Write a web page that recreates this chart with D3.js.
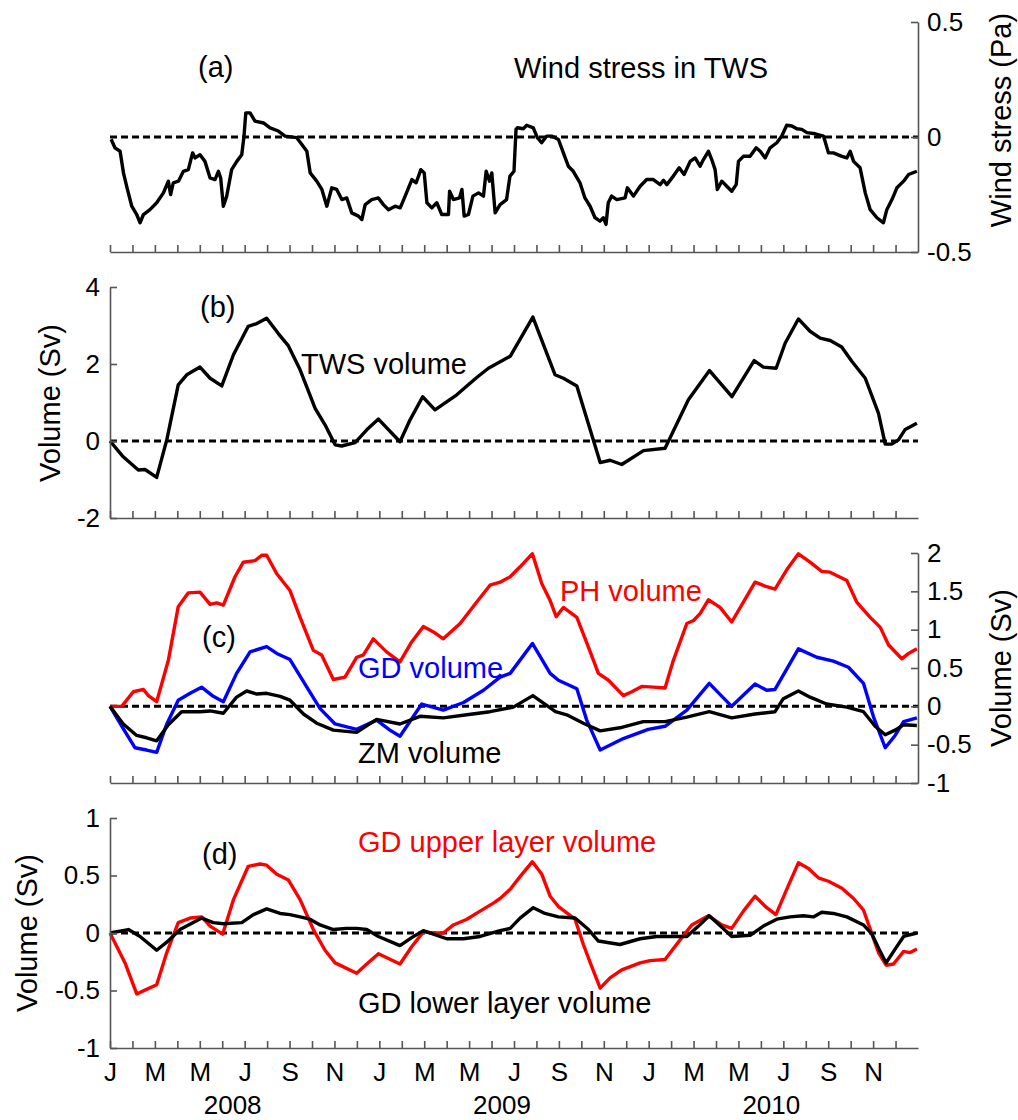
<!DOCTYPE html>
<html>
<head>
<meta charset="utf-8">
<script src="https://cdn.jsdelivr.net/npm/d3@7"></script>
<style>
  body { margin: 0; background: #fff; }
  text { font-family: "Liberation Sans", Arial, sans-serif; }
</style>
</head>
<body>
<svg id="chart" width="1018" height="1120"></svg>
<script>
// time is in months since Jan 2008
const monthLetters = ['J','F','M','A','M','J','J','A','S','O','N','D'];
const years = ['2008', '2009', '2010'];

const windStress = [[0.05,-0.01],[0.22,-0.047],[0.45,-0.062],[0.6,-0.156],[0.74,-0.214],[0.97,-0.301],[1.19,-0.337],[1.34,-0.373],[1.49,-0.337],[1.78,-0.316],[2.08,-0.286],[2.38,-0.243],[2.6,-0.192],[2.7,-0.25],[2.82,-0.199],[3.05,-0.192],[3.27,-0.149],[3.49,-0.142],[3.68,-0.069],[3.79,-0.091],[4.01,-0.077],[4.23,-0.106],[4.46,-0.178],[4.68,-0.185],[4.83,-0.149],[4.93,-0.178],[5.05,-0.301],[5.2,-0.257],[5.42,-0.142],[5.65,-0.106],[5.87,-0.077],[5.97,0.004],[6.05,0.105],[6.24,0.105],[6.46,0.069],[6.84,0.061],[7.13,0.04],[7.5,0.026],[7.8,0.004],[8.32,-0.003],[8.54,-0.032],[8.77,-0.062],[8.92,-0.156],[9.21,-0.192],[9.44,-0.228],[9.66,-0.301],[9.88,-0.221],[10.1,-0.228],[10.33,-0.272],[10.55,-0.265],[10.77,-0.33],[11.07,-0.344],[11.22,-0.359],[11.37,-0.294],[11.66,-0.272],[11.96,-0.265],[12.18,-0.294],[12.41,-0.316],[12.7,-0.301],[12.93,-0.308],[13.15,-0.257],[13.45,-0.185],[13.64,-0.199],[13.85,-0.142],[14.0,-0.156],[14.12,-0.286],[14.34,-0.308],[14.56,-0.286],[14.78,-0.337],[15.08,-0.337],[15.13,-0.236],[15.3,-0.272],[15.57,-0.265],[15.68,-0.228],[15.78,-0.344],[15.97,-0.337],[16.17,-0.257],[16.42,-0.243],[16.64,-0.257],[16.76,-0.149],[16.91,-0.192],[17.01,-0.156],[17.16,-0.33],[17.38,-0.294],[17.67,-0.272],[17.82,-0.17],[18.0,-0.149],[18.09,0.033],[18.15,0.04],[18.42,0.036],[18.56,0.051],[18.86,0.04],[19.04,-0.003],[19.23,-0.025],[19.46,0.004],[19.68,0.004],[19.98,-0.011],[20.2,-0.069],[20.42,-0.127],[20.64,-0.149],[20.94,-0.199],[21.16,-0.265],[21.39,-0.301],[21.61,-0.351],[21.83,-0.366],[21.98,-0.351],[22.1,-0.38],[22.2,-0.286],[22.35,-0.257],[22.58,-0.272],[22.95,-0.265],[23.05,-0.221],[23.32,-0.257],[23.62,-0.214],[23.91,-0.185],[24.21,-0.185],[24.51,-0.207],[24.66,-0.188],[24.81,-0.207],[25.1,-0.17],[25.36,-0.134],[25.58,-0.163],[25.85,-0.106],[26.07,-0.091],[26.29,-0.127],[26.44,-0.098],[26.66,-0.062],[26.81,-0.098],[26.96,-0.142],[27.06,-0.228],[27.26,-0.192],[27.48,-0.214],[27.7,-0.236],[27.9,-0.207],[28.0,-0.106],[28.22,-0.084],[28.52,-0.084],[28.79,-0.047],[28.97,-0.062],[29.19,-0.091],[29.41,-0.047],[29.71,-0.025],[29.93,0.004],[30.15,0.051],[30.38,0.048],[30.6,0.036],[30.82,0.033],[31.05,0.019],[31.42,0.014],[31.79,0.004],[32.01,-0.069],[32.23,-0.069],[32.61,-0.084],[32.83,-0.091],[32.98,-0.062],[33.13,-0.106],[33.42,-0.134],[33.65,-0.243],[33.87,-0.316],[34.17,-0.351],[34.46,-0.373],[34.61,-0.316],[34.84,-0.272],[35.06,-0.221],[35.36,-0.192],[35.58,-0.163],[35.95,-0.149]];

const twsVolume = [[0,0],[0.59,-0.41],[1.26,-0.755],[1.56,-0.74],[2.08,-0.946],[2.53,0.03],[3.04,1.46],[3.42,1.72],[4.01,1.92],[4.46,1.63],[4.98,1.43],[5.5,2.24],[6.16,2.98],[6.54,3.05],[6.98,3.19],[7.5,2.79],[7.95,2.47],[8.47,1.85],[9.14,0.85],[9.58,0.42],[10.03,-0.1],[10.32,-0.13],[10.92,-0.04],[11.44,0.29],[11.96,0.57],[12.92,-0.02],[13.37,0.55],[13.93,1.15],[14.48,0.81],[15.45,1.2],[16.34,1.65],[16.86,1.89],[17.83,2.2],[18.84,3.22],[19.83,1.72],[20.2,1.63],[20.8,1.43],[21.84,-0.56],[22.28,-0.5],[22.8,-0.61],[23.77,-0.25],[24.73,-0.19],[25.77,1.07],[26.71,1.83],[27.71,1.15],[28.7,2.09],[29.11,1.92],[29.68,1.89],[30.08,2.54],[30.67,3.17],[31.19,2.85],[31.64,2.67],[32.09,2.61],[32.6,2.44],[33.05,2.07],[33.65,1.63],[34.24,0.72],[34.54,-0.08],[34.83,-0.08],[35.13,0.03],[35.43,0.3],[35.95,0.46]];

const phVolume = [[0,0],[0.52,0],[1.04,0.19],[1.49,0.22],[1.71,0.14],[2.08,0.06],[2.6,0.6],[3.04,1.3],[3.49,1.48],[4.01,1.49],[4.46,1.33],[4.75,1.35],[5.05,1.32],[5.57,1.69],[5.94,1.88],[6.46,1.9],[6.76,1.97],[6.98,1.97],[7.43,1.73],[8.02,1.51],[8.47,1.16],[9.06,0.73],[9.43,0.67],[9.95,0.35],[10.47,0.38],[10.99,0.64],[11.29,0.67],[11.73,0.88],[12.32,0.71],[12.92,0.58],[13.44,0.84],[13.96,1.04],[14.41,0.97],[14.85,0.88],[15.6,1.08],[16.34,1.36],[16.93,1.58],[17.38,1.62],[17.83,1.69],[18.27,1.82],[18.82,1.99],[19.24,1.6],[19.61,1.38],[19.88,1.17],[20.2,1.29],[20.8,1.16],[21.32,0.77],[21.76,0.43],[22.21,0.34],[22.87,0.14],[23.25,0.19],[23.69,0.26],[24.21,0.25],[24.73,0.24],[25.1,0.6],[25.7,1.08],[26.0,1.12],[26.29,1.21],[26.66,1.39],[27.18,1.29],[27.7,1.1],[28.22,1.36],[28.74,1.62],[29.26,1.56],[29.63,1.53],[30.15,1.78],[30.67,1.99],[31.19,1.88],[31.71,1.76],[32.08,1.75],[32.83,1.64],[33.27,1.36],[33.87,1.16],[34.32,1.03],[34.69,0.8],[35.28,0.62],[35.58,0.69],[35.95,0.75]];

const gdVolume = [[0,0],[0.59,-0.29],[1.11,-0.54],[1.63,-0.57],[2.08,-0.6],[2.53,-0.23],[3.04,0.08],[3.57,0.17],[4.08,0.25],[4.6,0.13],[5.05,0.06],[5.64,0.43],[6.24,0.71],[6.98,0.78],[7.43,0.69],[8.02,0.61],[8.77,0.25],[9.36,-0.03],[10.03,-0.23],[10.99,-0.3],[11.88,-0.18],[12.47,-0.31],[12.92,-0.39],[13.89,0.03],[14.85,-0.05],[15.75,0.05],[16.64,0.21],[17.38,0.38],[17.83,0.43],[18.82,0.82],[19.61,0.43],[19.98,0.34],[20.8,0.23],[21.24,-0.18],[21.84,-0.57],[22.87,-0.42],[23.98,-0.3],[24.73,-0.26],[25.7,-0.05],[26.7,0.3],[27.7,0],[28.74,0.29],[29.26,0.21],[29.63,0.22],[30.67,0.75],[31.49,0.64],[32.23,0.59],[32.9,0.51],[33.57,0.3],[34.02,-0.14],[34.54,-0.54],[34.98,-0.38],[35.36,-0.2],[35.95,-0.15]];

const zmVolume = [[0,0],[0.59,-0.23],[1.19,-0.38],[1.63,-0.41],[2.08,-0.45],[2.6,-0.24],[3.19,-0.07],[4.01,-0.07],[4.46,-0.06],[5.05,-0.09],[5.64,0.12],[6.09,0.2],[6.54,0.16],[6.98,0.17],[7.58,0.13],[8.02,0.08],[8.62,-0.1],[9.21,-0.22],[9.95,-0.31],[10.99,-0.34],[11.88,-0.17],[12.92,-0.23],[13.81,-0.13],[14.85,-0.15],[15.9,-0.11],[16.93,-0.07],[17.97,-0.01],[18.84,0.14],[19.85,-0.07],[20.35,-0.11],[21.09,-0.22],[21.84,-0.32],[22.72,-0.28],[23.76,-0.2],[24.73,-0.2],[25.7,-0.14],[26.7,-0.07],[27.7,-0.15],[28.74,-0.1],[29.63,-0.07],[30.0,0.1],[30.67,0.2],[31.19,0.12],[31.93,0.03],[32.83,-0.01],[33.57,-0.07],[34.09,-0.26],[34.54,-0.37],[34.98,-0.31],[35.36,-0.24],[35.95,-0.25]];

const gdUpper = [[0,0],[0.67,-0.26],[1.19,-0.53],[1.63,-0.49],[2.08,-0.45],[2.53,-0.17],[3.04,0.09],[3.57,0.13],[4.09,0.14],[4.46,0.06],[5.02,-0.01],[5.5,0.29],[6.16,0.58],[6.68,0.6],[6.98,0.59],[7.43,0.51],[7.95,0.46],[8.47,0.29],[9.06,0.03],[9.58,-0.15],[10.03,-0.26],[10.99,-0.35],[11.44,-0.27],[11.96,-0.18],[12.92,-0.27],[13.44,-0.12],[13.96,0.01],[14.41,0],[14.85,0],[15.3,0.07],[15.9,0.12],[16.49,0.19],[17.08,0.26],[17.38,0.3],[17.83,0.38],[18.27,0.49],[18.82,0.62],[19.24,0.51],[19.61,0.32],[19.98,0.23],[20.72,0.12],[21.09,-0.1],[21.46,-0.29],[21.84,-0.48],[22.28,-0.39],[22.8,-0.32],[23.62,-0.26],[24.06,-0.24],[24.73,-0.23],[25.4,-0.06],[25.92,0.07],[26.66,0.15],[27.26,0.07],[27.7,0.04],[28.22,0.19],[28.74,0.32],[29.26,0.22],[29.67,0.16],[30.15,0.38],[30.67,0.61],[31.12,0.56],[31.56,0.48],[32.01,0.45],[32.61,0.39],[33.13,0.3],[33.57,0.2],[33.95,-0.01],[34.24,-0.17],[34.58,-0.28],[34.91,-0.27],[35.36,-0.16],[35.65,-0.17],[35.95,-0.14]];

const gdLower = [[0,0],[0.82,0.03],[1.34,-0.03],[2.08,-0.15],[2.53,-0.08],[3.12,0.03],[4.09,0.13],[4.6,0.09],[5.05,0.08],[5.87,0.09],[6.39,0.16],[6.98,0.21],[7.58,0.17],[8.02,0.16],[8.47,0.14],[8.91,0.12],[9.36,0.07],[9.95,0.03],[10.54,0.04],[10.99,0.04],[11.44,0.03],[11.96,-0.03],[12.92,-0.11],[13.44,-0.04],[13.96,0.02],[14.41,-0.01],[15.0,-0.05],[15.75,-0.05],[16.49,-0.03],[17.38,0.02],[17.83,0.04],[18.27,0.13],[18.86,0.22],[19.38,0.17],[19.98,0.14],[20.72,0.13],[21.32,0.03],[21.76,-0.07],[22.72,-0.1],[23.62,-0.05],[24.36,-0.03],[25.7,-0.03],[26.22,0.06],[26.7,0.15],[27.26,0.05],[27.7,-0.03],[28.52,-0.02],[29.11,0.06],[29.71,0.12],[30.3,0.14],[30.89,0.15],[31.34,0.14],[31.71,0.18],[32.23,0.17],[32.83,0.14],[33.57,0.07],[33.95,-0.01],[34.24,-0.13],[34.58,-0.26],[34.98,-0.14],[35.36,-0.03],[35.95,0]];

const svg = d3.select('#chart');
const x = d3.scaleLinear().domain([0, 36]).range([110, 918]);
const monthTicks = d3.range(0, 36);
const fmt = d => String(d);

function panel(cfg) {
  const y = d3.scaleLinear().domain(cfg.domain).range(cfg.range);
  const g = svg.append('g');
  const line = d3.line().x(d => x(d[0])).y(d => y(d[1]));

  // zero reference
  g.append('line')
    .attr('x1', x(0)).attr('x2', x(36))
    .attr('y1', y(0)).attr('y2', y(0))
    .attr('stroke', '#000').attr('stroke-width', 3)
    .attr('stroke-dasharray', '7,4');

  cfg.series.forEach(s => {
    g.append('path').datum(s.data)
      .attr('d', line)
      .attr('fill', 'none')
      .attr('stroke', s.color)
      .attr('stroke-width', 3.4)
      .attr('stroke-linejoin', 'round');
  });

  const bottom = d3.axisBottom(x).tickValues(monthTicks)
    .tickSize(-7).tickSizeOuter(0).tickPadding(15)
    .tickFormat(cfg.monthLabels ? (t => t % 2 === 0 ? monthLetters[t % 12] : '') : '');
  const bx = g.append('g').attr('transform', `translate(0,${cfg.range[0]})`).call(bottom);

  let vx;
  if (cfg.side === 'left') {
    vx = g.append('g').attr('transform', `translate(${x(0)},0)`)
      .call(d3.axisLeft(y).tickValues(cfg.ticks).tickFormat(fmt).tickSize(-7).tickSizeOuter(0).tickPadding(10));
  } else {
    vx = g.append('g').attr('transform', `translate(${x(36)},0)`)
      .call(d3.axisRight(y).tickValues(cfg.ticks).tickFormat(fmt).tickSize(-7).tickSizeOuter(0).tickPadding(9));
  }

  [bx, vx].forEach(a => {
    a.selectAll('path, line').attr('stroke', '#555').attr('stroke-width', 1.6);
    a.selectAll('text').attr('fill', '#000').style('font-size', '26px')
      .style('font-family', '"Liberation Sans", Arial, sans-serif');
  });

  g.append('text')
    .attr('transform', `translate(${cfg.titleX},${cfg.titleY}) rotate(-90)`)
    .attr('text-anchor', 'middle')
    .style('font-size', '29px')
    .text(cfg.title);

  cfg.notes.forEach(n => {
    g.append('text').attr('x', n.x).attr('y', n.y)
      .attr('fill', n.color || '#000')
      .style('font-size', '29px')
      .text(n.text);
  });
  return y;
}

panel({
  domain: [-0.5, 0.5], range: [252, 22], side: 'right', ticks: [-0.5, 0, 0.5],
  title: 'Wind stress (Pa)', titleX: 1011, titleY: 120,
  series: [{data: windStress, color: '#000'}],
  notes: [{text: '(a)', x: 198, y: 77}, {text: 'Wind stress in TWS', x: 514, y: 78}]
});

panel({
  domain: [-2, 4], range: [518, 287], side: 'left', ticks: [-2, 0, 2, 4],
  title: 'Volume (Sv)', titleX: 60, titleY: 403,
  series: [{data: twsVolume, color: '#000'}],
  notes: [{text: '(b)', x: 200, y: 317}, {text: 'TWS volume', x: 301, y: 374}]
});

panel({
  domain: [-1, 2], range: [783, 553], side: 'right', ticks: [-1, -0.5, 0, 0.5, 1, 1.5, 2],
  title: 'Volume (Sv)', titleX: 1011, titleY: 668,
  series: [{data: phVolume, color: '#ff0000'}, {data: gdVolume, color: '#0000ff'}, {data: zmVolume, color: '#000'}],
  notes: [
    {text: '(c)', x: 202, y: 647},
    {text: 'PH volume', x: 560, y: 601, color: '#ff0000'},
    {text: 'GD volume', x: 358, y: 678, color: '#0000ff'},
    {text: 'ZM volume', x: 358, y: 763}
  ]
});

panel({
  domain: [-1, 1], range: [1048, 818], side: 'left', ticks: [-1, -0.5, 0, 0.5, 1],
  title: 'Volume (Sv)', titleX: 37, titleY: 933, monthLabels: true,
  series: [{data: gdUpper, color: '#ff0000'}, {data: gdLower, color: '#000'}],
  notes: [
    {text: '(d)', x: 202, y: 864},
    {text: 'GD upper layer volume', x: 358, y: 852, color: '#ff0000'},
    {text: 'GD lower layer volume', x: 358, y: 1013}
  ]
});

// year labels under the month letters
svg.append('g').selectAll('text').data(years).join('text')
  .attr('x', (d, i) => x(12 * i + 6) - 12)
  .attr('y', 1114)
  .attr('text-anchor', 'middle')
  .style('font-size', '26px')
  .text(d => d);
</script>
</body>
</html>
